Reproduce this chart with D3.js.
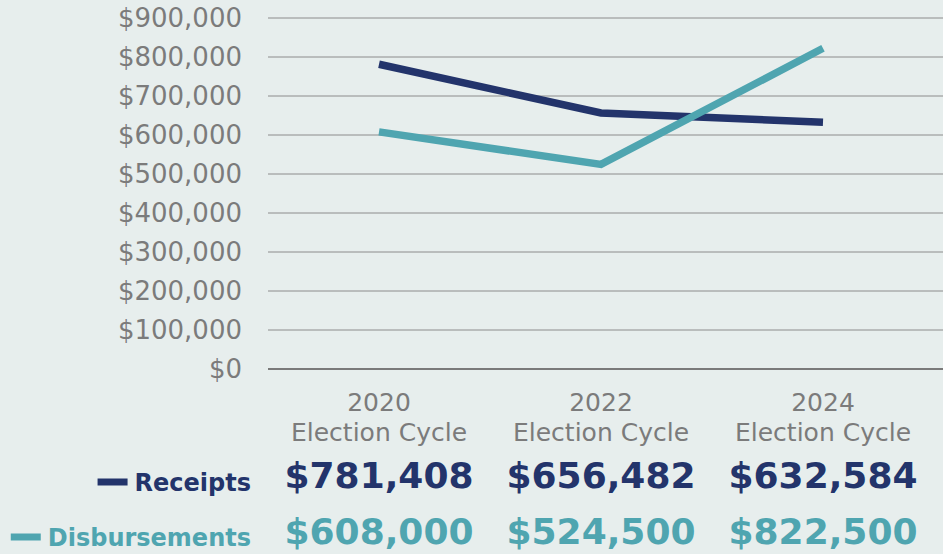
<!DOCTYPE html>
<html lang="en">
<head>
  <meta charset="UTF-8">
  <title>Receipts vs Disbursements by Election Cycle</title>
  <script src="https://d3js.org/d3.v7.min.js"></script>
  <style>
    body { margin: 0; background: #e7eeed; }
    svg { display: block; font-family: "DejaVu Sans", sans-serif; }
    .ylab text { fill: #7b7b7b; font-size: 26px; }
    .xlab text { fill: #7b7b7b; font-size: 25px; }
  </style>
</head>
<body>
<div id="chart"></div>
<script>
// data
const cycles = ["2020", "2022", "2024"];
const receipts = [781408, 656482, 632584];
const disbursements = [608000, 524500, 822500];
const yTicks = [0, 100000, 200000, 300000, 400000, 500000, 600000, 700000, 800000, 900000];

const W = 943, H = 554;
const navy = "#23346b", teal = "#4fa5b0";

const svg = d3.select("#chart").append("svg")
  .attr("width", W).attr("height", H);

const x = d3.scalePoint().domain(cycles).range([268, 934]).padding(0.5);
const y = d3.scaleLinear().domain([0, 900000]).range([369, 18]);
const fmt = d => "$" + d3.format(",")(d);

// gridlines
svg.append("g").selectAll("line").data(yTicks).join("line")
  .attr("x1", 268).attr("x2", W)
  .attr("y1", d => y(d)).attr("y2", d => y(d))
  .attr("stroke-width", d => d === 0 ? 2 : 1)
  .attr("stroke", d => d === 0 ? "#7a7a7a" : "#8c8c8c");

// y labels
svg.append("g").attr("class", "ylab")
  .selectAll("text").data(yTicks).join("text")
  .attr("x", 242).attr("y", d => y(d))
  .attr("dy", "0.36em")
  .attr("text-anchor", "end")
  .text(fmt);

// x labels (two separate lines)
const xl = svg.append("g").attr("class", "xlab");
xl.selectAll("text.yr").data(cycles).join("text")
  .attr("class", "yr")
  .attr("x", d => x(d)).attr("y", 411)
  .attr("text-anchor", "middle").text(d => d);
xl.selectAll("text.ec").data(cycles).join("text")
  .attr("class", "ec")
  .attr("x", d => x(d)).attr("y", 441)
  .attr("text-anchor", "middle").text("Election Cycle");

// lines
const line = d3.line().x((d, i) => x(cycles[i])).y(d => y(d));
svg.append("path").datum(receipts)
  .attr("d", line).attr("fill", "none")
  .attr("stroke", navy).attr("stroke-width", 7.5);
svg.append("path").datum(disbursements)
  .attr("d", line).attr("fill", "none")
  .attr("stroke", teal).attr("stroke-width", 7.5);

// table rows
const rows = [
  {name: "Receipts", values: receipts, color: navy, ly: 482, vy: 475},
  {name: "Disbursements", values: disbursements, color: teal, ly: 537, vy: 531}
];
rows.forEach(r => {
  const g = svg.append("g");
  const lbl = g.append("text")
    .attr("x", 251).attr("y", r.ly).attr("dy", "0.36em")
    .attr("text-anchor", "end")
    .attr("font-size", 24).attr("font-weight", "bold")
    .attr("fill", r.color).text(r.name);
  const bb = lbl.node().getBBox();
  g.append("line")
    .attr("x1", bb.x - 37).attr("x2", bb.x - 7)
    .attr("y1", r.ly).attr("y2", r.ly)
    .attr("stroke", r.color).attr("stroke-width", 7);
  g.selectAll("text.v").data(r.values).join("text")
    .attr("class", "v")
    .attr("x", (d, i) => x(cycles[i])).attr("y", r.vy).attr("dy", "0.36em")
    .attr("text-anchor", "middle")
    .attr("font-size", 36).attr("font-weight", "bold")
    .attr("fill", r.color).text(fmt);
});
</script>
</body>
</html>
